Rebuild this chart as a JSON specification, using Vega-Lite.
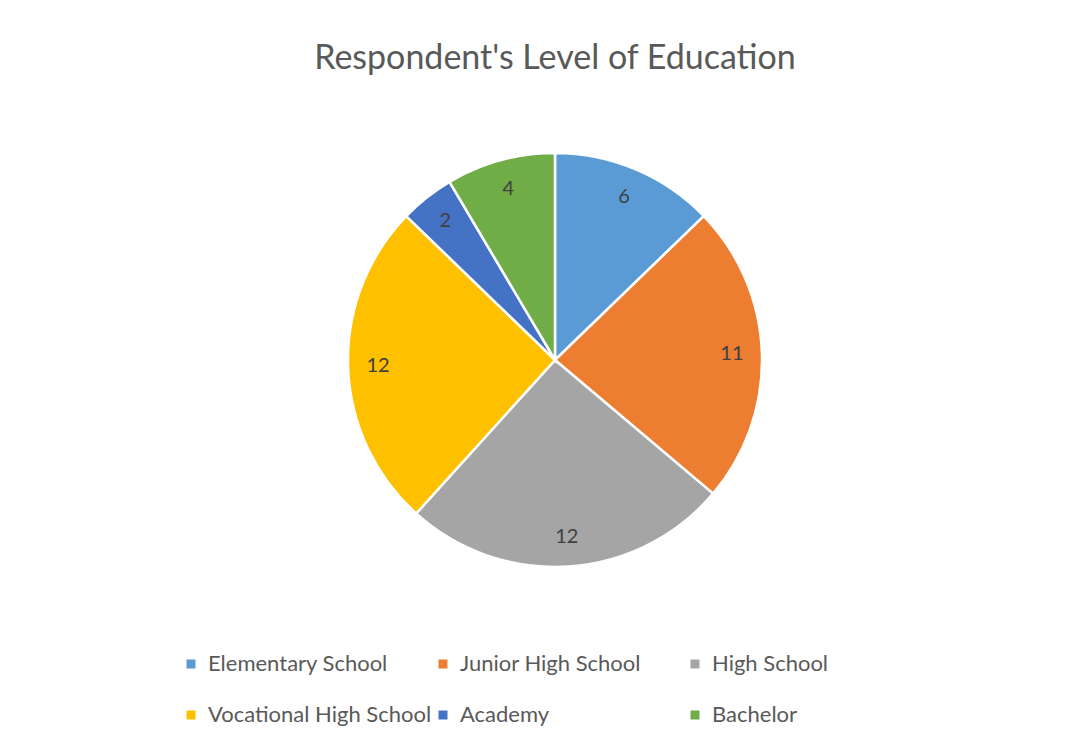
{
  "$schema": "https://vega.github.io/schema/vega-lite/v6.json",
  "width": 414,
  "height": 414,
  "autosize": {"type": "none"},
  "padding": {"left": 348, "top": 153, "right": 329, "bottom": 182},
  "background": "white",
  "title": {
    "text": "Respondent's Level of Education",
    "font": "Lato",
    "fontSize": 34,
    "fontWeight": "normal",
    "color": "#595959",
    "anchor": "middle",
    "offset": 72
  },
  "data": {
    "values": [
      {"idx": 1, "level": "Elementary School", "count": 6},
      {"idx": 2, "level": "Junior High School", "count": 11},
      {"idx": 3, "level": "High School", "count": 12},
      {"idx": 4, "level": "Vocational High School", "count": 12},
      {"idx": 5, "level": "Academy", "count": 2},
      {"idx": 6, "level": "Bachelor", "count": 4}
    ]
  },
  "encoding": {
    "theta": {"field": "count", "type": "quantitative", "stack": true},
    "order": {"field": "idx", "type": "quantitative"}
  },
  "layer": [
    {
      "mark": {"type": "arc", "stroke": "white", "strokeWidth": 2.5},
      "encoding": {
        "color": {
          "field": "level",
          "type": "nominal",
          "sort": ["Elementary School", "Junior High School", "High School", "Vocational High School", "Academy", "Bachelor"],
          "scale": {
            "domain": ["Elementary School", "Junior High School", "High School", "Vocational High School", "Academy", "Bachelor"],
            "range": ["#5B9BD5", "#ED7D31", "#A5A5A5", "#FFC000", "#4472C4", "#70AD47"]
          },
          "legend": {
            "title": null,
            "orient": "none",
            "legendX": -168,
            "legendY": 500,
            "direction": "horizontal",
            "columns": 3,
            "gridAlign": "all",
            "symbolType": "square",
            "symbolSize": 81,
            "symbolStrokeWidth": 0,
            "labelFont": "Lato",
            "labelFontSize": 22,
            "labelColor": "#595959",
            "labelOffset": 6,
            "labelLimit": 400,
            "columnPadding": -6,
            "rowPadding": 29,
            "padding": 0
          }
        }
      }
    },
    {
      "mark": {"type": "text", "radius": 177, "font": "Lato", "fontSize": 20, "color": "#404040"},
      "encoding": {
        "detail": {"field": "level", "type": "nominal"},
        "text": {"field": "count", "type": "quantitative"}
      }
    }
  ]
}
